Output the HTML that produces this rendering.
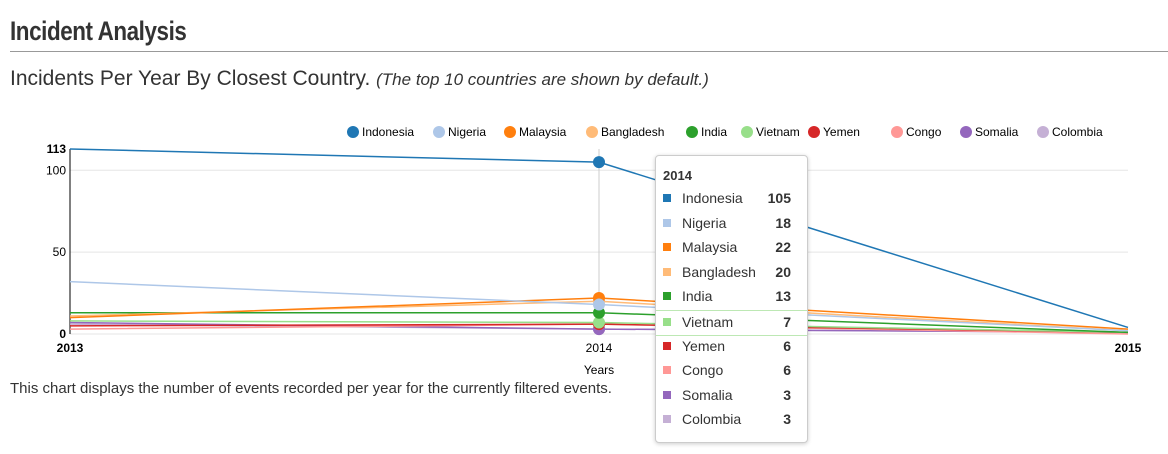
<!DOCTYPE html>
<html><head><meta charset="utf-8"><style>
body{margin:0;width:1168px;height:454px;background:#fff;font-family:"Liberation Sans",sans-serif;position:relative;overflow:hidden}
h1{position:absolute;left:10px;top:16px;margin:0;font:bold 27px "Liberation Sans",sans-serif;color:#333;letter-spacing:-0.5px;transform:scaleX(0.83);transform-origin:0 0}
.rule{position:absolute;left:10px;top:51px;width:1158px;height:1px;background:#999}
h2{position:absolute;left:10px;top:67px;margin:0;font:21px "Liberation Sans",sans-serif;color:#333}
h2 i{font-size:17px}
.note{position:absolute;left:10px;top:380px;font-size:15px;color:#333}
#tip{position:absolute;left:655px;top:155px;width:151px;height:286px;background:#fff;border:1px solid #ccc;border-radius:4px;box-shadow:0 1px 4px rgba(0,0,0,.2);font-size:14px;color:#333}
#tip .hd{font-weight:bold;font-size:13px;position:absolute;left:7px;top:12px}
.row{position:absolute;left:0;width:151px;height:24px}
.row .sw{position:absolute;left:7px;top:7px;width:8px;height:8px}
.row .nm{position:absolute;left:26px;top:3px}
.row .v{position:absolute;right:16px;top:3px;font-weight:bold}
</style></head><body>
<h1>Incident Analysis</h1>
<div class="rule"></div>
<h2>Incidents Per Year By Closest Country. <i>(The top 10 countries are shown by default.)</i></h2>
<svg id="chart" width="1168" height="454" style="position:absolute;left:0;top:0"></svg>
<div class="note">This chart displays the number of events recorded per year for the currently filtered events.</div>
<div id="tip"><div class="hd">2014</div></div>
<script>
const years=["2013","2014","2015"];
const countries=["Indonesia","Nigeria","Malaysia","Bangladesh","India","Vietnam","Yemen","Congo","Somalia","Colombia"];
const colors=["#1f77b4","#aec7e8","#ff7f0e","#ffbb78","#2ca02c","#98df8a","#d62728","#ff9896","#9467bd","#c5b0d5"];
const v2013=[113,32,10,11,13,8,5,3,7,6];
const v2014=[105,18,22,20,13,7,6,6,3,3];
const v2015=[4,2,3,2,1,1,1,0,1,1];
const yTicks=[0,50,100];
const yMax=113;
const NS="http://www.w3.org/2000/svg";
const svg=document.getElementById('chart');
const X=i=>70+i*529, Y=v=>334-v*(185/113);
function el(t,a){const e=document.createElementNS(NS,t);for(const k in a)e.setAttribute(k,a[k]);svg.appendChild(e);return e;}
yTicks.forEach(t=>{const g=el('line',{x1:70,x2:1128,y1:Y(t),y2:Y(t),stroke:'#e5e5e5'});


const tx=el('text',{x:66,y:Y(t)+4,'text-anchor':'end','font-size':12,fill:'#000','font-weight':t==0?'bold':'normal'});tx.textContent=t;

});
const mx=el('text',{x:66,y:Y(yMax)+4,'text-anchor':'end','font-size':12,'font-weight':'bold'});mx.textContent=yMax;


const ax=el('line',{x1:70,x2:70,y1:Y(yMax),y2:334,stroke:'#000'});


years.forEach((y,i)=>{const t=el('text',{x:X(i),y:352,'text-anchor':'middle','font-size':12,'font-weight':i==1?'normal':'bold'});t.textContent=y;

});
const xt=el('text',{x:599,y:374,'text-anchor':'middle','font-size':12});xt.textContent='Years';


const gl=el('line',{x1:599,x2:599,y1:Y(yMax),y2:334,stroke:'#ccc'});


for(let c=countries.length-1;c>=0;c--){
 const vals=[v2013[c],v2014[c],v2015[c]];
 const p=el('polyline',{points:vals.map((v,i)=>X(i)+','+Y(v)).join(' '),fill:'none',stroke:colors[c],'stroke-width':1.5});
 
 
 const d=el('circle',{cx:X(1),cy:Y(v2014[c]),r:6,fill:colors[c]});
 
 
}
const lx=[346,432,503,585,685,740,807,890,959,1036];
countries.forEach((c,i)=>{
 const g=el('g',{});
 
 
 const ci=document.createElementNS(NS,'circle');ci.setAttribute('cx',lx[i]+7);ci.setAttribute('cy',132);ci.setAttribute('r',6);ci.setAttribute('fill',colors[i]);g.appendChild(ci);
 const t=document.createElementNS(NS,'text');t.setAttribute('x',lx[i]+16);t.setAttribute('y',136);t.setAttribute('font-size',12);t.textContent=c;g.appendChild(t);
});
const tip=document.getElementById('tip');
countries.forEach((c,i)=>{
 const r=document.createElement('div');r.className='row';
 
 
 if(i==5){r.style.borderTop='1px solid #bde8b4';r.style.borderBottom='1px solid #bde8b4';}
 r.innerHTML='<span class="sw" style="background:'+colors[i]+'"></span><span class="nm">'+c+'</span><span class="v">'+v2014[i]+'</span>';
 r.style.top=(31+i*24.6)+'px';
 tip.appendChild(r);
});
</script>
</body></html>
